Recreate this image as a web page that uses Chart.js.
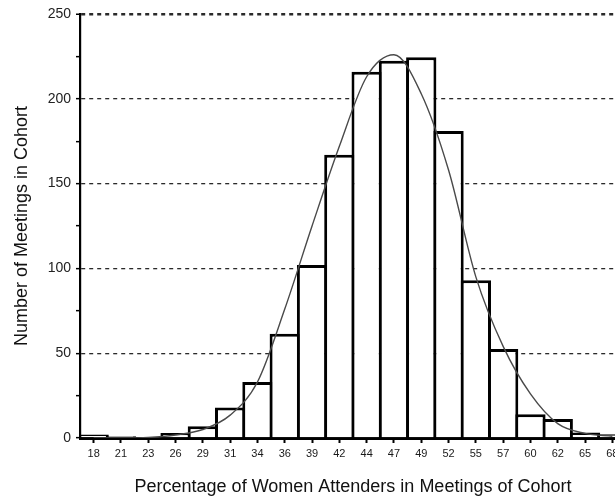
<!DOCTYPE html>
<html>
<head>
<meta charset="utf-8">
<script src="https://cdn.jsdelivr.net/npm/chart.js@4"></script>
<style>
  html, body { margin: 0; padding: 0; background: #fff; overflow: hidden; width: 615px; height: 498px; }
  #wrap { position: absolute; left: 0; top: 0; width: 640px; height: 498px; }
</style>
</head>
<body>
<div id="wrap"><canvas id="c" width="640" height="498"></canvas></div>
<script>
const categories = ['18','21','23','26','29','31','34','36','39','42','44','47','49','52','55','57','60','62','65','68'];
const meetingCounts = [2, 1, 0, 3, 7, 18, 33, 61.5, 102, 167, 216, 222.5, 224.5, 181, 93, 52.5, 14, 11.2, 3.3, 2.2];
const fittedCurve = [0, 0, 0.3, 1.8, 5, 13.5, 33, 76, 125, 172, 213, 226, 203, 158, 95, 54, 26, 8.5, 2.7, 1];
const yMin = 0, yMax = 250, yStep = 25, yLabelStep = 50;
const xTitle = 'Percentage of Women Attenders in Meetings of Cohort';
const yTitle = 'Number of Meetings in Cohort';

Chart.defaults.font.family = '"Liberation Sans", Arial, Helvetica, sans-serif';

new Chart(document.getElementById('c'), {
  data: {
    labels: categories,
    datasets: [
      {
        type: 'line',
        data: fittedCurve,
        borderColor: '#4a4a4a',
        borderWidth: 1.4,
        pointRadius: 0,
        cubicInterpolationMode: 'monotone',
        fill: false,
        order: 0
      },
      {
        type: 'bar',
        data: meetingCounts,
        backgroundColor: '#fff',
        borderColor: '#000',
        borderWidth: 3,
        borderSkipped: 'start',
        categoryPercentage: 1,
        barPercentage: 1.11,
        order: 1
      }
    ]
  },
  options: {
    responsive: false,
    animation: false,
    events: [],
    layout: { padding: { top: 14, right: 14, left: 0, bottom: 0 } },
    plugins: { legend: { display: false }, tooltip: { enabled: false } },
    scales: {
      x: {
        type: 'category',
        offset: true,
        z: 1,
        afterFit: s => { s.height = 60; },
        grid: { offset: false, drawOnChartArea: false, drawTicks: true, tickLength: 5, tickColor: '#000', tickWidth: 2 },
        border: { color: '#000', width: 3 },
        ticks: { color: '#1a1a1a', font: { size: 11 }, padding: 4, maxRotation: 0, autoSkip: false },
        title: { display: true, text: xTitle, color: '#111', font: { size: 18 }, padding: { top: 0, bottom: 0 } }
      },
      y: {
        min: yMin, max: yMax,
        afterFit: s => { s.width = 80; },
        grid: {
          color: c => (c.tick && c.tick.value % yLabelStep === 0 && c.tick.value !== 0) ? '#2a2a2a' : 'rgba(0,0,0,0)',
          lineWidth: c => (c.tick && c.tick.value === yMax) ? 2.5 : 1.3,
          tickLength: 4, tickColor: '#000', tickWidth: 1.5
        },
        border: { color: '#000', width: 2.2, dash: [4, 4] },
        ticks: {
          stepSize: yStep,
          color: '#222',
          font: { size: 14 },
          padding: 5,
          callback: v => (v % yLabelStep === 0 ? String(v) : '')
        },
        title: { display: true, text: yTitle, color: '#111', font: { size: 18 }, padding: { top: 11, bottom: 0 } }
      }
    }
  }
});
</script>
</body>
</html>
